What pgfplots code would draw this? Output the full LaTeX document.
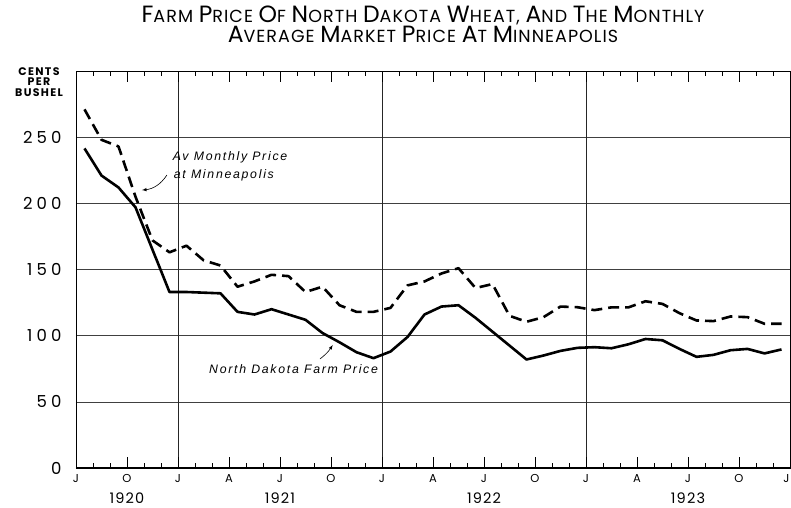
\documentclass[border=0pt]{standalone}
\usepackage{fontspec}
\setmainfont{Poppins}
\usepackage{pgfplots}
\pgfplotsset{compat=1.18}
\newfontfamily\titlefont[LetterSpace=6]{Poppins}
\newfontfamily\tickfont[LetterSpace=25]{Poppins}
\newfontfamily\yearfont[LetterSpace=8]{Poppins}
\newfontfamily\labfont[LetterSpace=12]{Poppins}
\newfontfamily\notefont[LetterSpace=14]{Liberation Sans}
\newcommand\BC[1]{{\fontsize{23.5}{23.5}\selectfont #1}}

\pgfplotstableread{
m farm mpls
0.5 241.5 271
1.5 221 248
2.5 212 243
3.5 197 205
4.5 165 172
5.5 133 163
6.5 133 168
7.5 132.5 157
8.5 132 153
9.5 118 137
10.5 116 141
11.5 120 146
12.5 116 145
13.5 112 133
14.5 102 137
15.5 95 123
16.5 87.5 118
17.5 83 118
18.5 88 121
19.5 99 138
20.5 116 141
21.5 122 147
22.5 123 151
23.5 113.5 136
24.5 103 139
25.5 92.5 115
26.5 82 110.5
27.5 85 114
28.5 88.5 122
29.5 90.8 121.5
30.5 91.3 119.3
31.5 90.5 121.4
32.5 93.5 121.4
33.5 97.5 126
34.5 96.5 124
35.5 90 117
36.5 84 111.5
37.5 85.5 111
38.5 89 114.5
39.5 90 114
40.5 86.6 109
41.5 89.6 109
}\datatable

\begin{document}
\begin{tikzpicture}
\begin{axis}[
  at={(0,0)}, anchor=south west,
  scale only axis,
  width=714pt, height=397pt,
  xmin=0, xmax=42, ymin=0, ymax=300,
  axis line style={line width=0.6pt},
  xtick={0,3,...,42},
  xticklabels={J,O,J,A,J,O,J,A,J,O,J,A,J,O,\hspace*{-7pt}J},
  minor xtick={0,1,...,42},
  xtick align=inside,
  major tick length=11pt, minor tick length=5pt,
  xtick style={line width=0.7pt, black},
  ytick={0,50,...,250},
  ytick style={draw=none},
  ymajorgrids,
  grid style={line width=0.5pt, black!75},
  extra x ticks={6,18,30},
  extra x tick labels={},
  extra x tick style={xmajorgrids=true, grid style={line width=0.6pt, black!85}},
  /pgf/number format/assume math mode=true,
  yticklabel style={font=\tickfont\fontsize{16.5}{16.5}\selectfont, xshift=-11pt},
  xticklabel style={font=\labfont\fontsize{11.5}{11.5}\selectfont, yshift=-3pt},
  clip=false,
]
\addplot[black, line width=2.6pt, line join=round] table[x=m, y=farm] {\datatable};
\addplot[black, line width=2.6pt, dash pattern=on 11pt off 6pt, line join=round] table[x=m, y=mpls] {\datatable};
\draw[line width=2pt] (rel axis cs:0,0) -- (rel axis cs:1,0);
% year labels
\node[font=\yearfont\fontsize{14.5}{14.5}\selectfont] at (axis cs:3,0) [yshift=-30pt] {1920};
\node[font=\yearfont\fontsize{14.5}{14.5}\selectfont] at (axis cs:12,0) [yshift=-30pt] {1921};
\node[font=\yearfont\fontsize{14.5}{14.5}\selectfont] at (axis cs:24,0) [yshift=-30pt] {1922};
\node[font=\yearfont\fontsize{14.5}{14.5}\selectfont] at (axis cs:36,0) [yshift=-30pt] {1923};
% annotations
\node[font=\notefont\itshape\fontsize{12.3}{12.3}\selectfont] at (axis cs:9.06,235) {Av Monthly Price};
\node[font=\notefont\itshape\fontsize{12.3}{12.3}\selectfont] at (axis cs:8.7,221.4) {at Minneapolis};
\draw[-latex, line width=0.6pt] (axis cs:5.35,221.4) to[bend left=25] (axis cs:3.88,210);
\node[font=\notefont\itshape\fontsize{12.3}{12.3}\selectfont] at (axis cs:12.8,74.8) {North Dakota Farm Price};
\draw[-latex, line width=0.6pt] (axis cs:14.35,82.4) to[bend right=10] (axis cs:15.1,93);
\end{axis}
% title and y label
\node[font=\titlefont\fontsize{17.5}{17.5}\selectfont, anchor=base] at (347pt,445pt) {\BC{F}ARM \BC{P}RICE \BC{O}F \BC{N}ORTH \BC{D}AKOTA \BC{W}HEAT, \BC{A}ND \BC{T}HE \BC{M}ONTHLY};
\node[font=\titlefont\fontsize{17.5}{17.5}\selectfont, anchor=base] at (347pt,425pt) {\BC{A}VERAGE \BC{M}ARKET \BC{P}RICE \BC{A}T \BC{M}INNEAPOLIS};
\node[font=\labfont\fontsize{11}{10.5}\selectfont\bfseries, align=center] at (-37pt,386pt) {CENTS\\PER\\BUSHEL};
\pgfresetboundingbox
\path[use as bounding box] (-76pt,-39pt) rectangle (715pt,468pt);
\end{tikzpicture}
\end{document}
